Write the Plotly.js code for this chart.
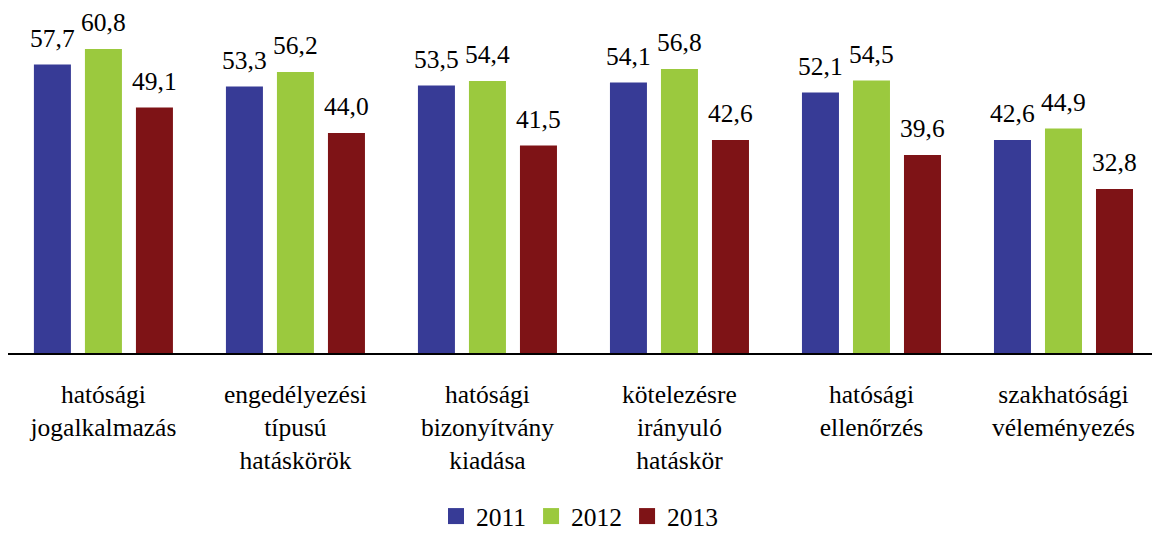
<!DOCTYPE html>
<html>
<head>
<meta charset="utf-8">
<script src="https://cdn.plot.ly/plotly-3.0.1.min.js"></script>
<style>html,body{margin:0;padding:0;background:#fff;}#chart{width:1152px;height:540px;}</style>
</head>
<body>
<div id="chart"></div>
<script>
const categories = [
  "hatósági<br>jogalkalmazás",
  "engedélyezési<br>típusú<br>hatáskörök",
  "hatósági<br>bizonyítvány<br>kiadása",
  "kötelezésre<br>irányuló<br>hatáskör",
  "hatósági<br>ellenőrzés",
  "szakhatósági<br>véleményezés"
];
const seriesNames = ["2011", "2012", "2013"];
const values2011 = [57.7, 53.3, 53.5, 54.1, 52.1, 42.6];
const values2012 = [60.8, 56.2, 54.4, 56.8, 54.5, 44.9];
const values2013 = [49.1, 44.0, 41.5, 42.6, 39.6, 32.8];
const colors = ["#373B96", "#9BC93E", "#7E1316"];

const FONT = "Times New Roman";
const FS = 25.5;
const allValues = [values2011, values2012, values2013];
const idx = categories.map((c, i) => i);
const bargap = 0.203, bargroupgap = 0.2745;
const slot = (1 - bargap) / 3;
const fmt = v => v.toFixed(1).replace(".", ",");

const traces = [];
allValues.forEach((vals, k) => {
  traces.push({
    type: "bar", x: idx, y: vals, name: seriesNames[k],
    marker: {color: colors[k]}, showlegend: false, hoverinfo: "skip"
  });
});
allValues.forEach((vals, k) => {
  traces.push({
    type: "scatter", mode: "markers", x: [null], y: [null], name: seriesNames[k],
    marker: {symbol: "square", size: 17, color: colors[k]}, showlegend: true
  });
});

const annotations = [];
allValues.forEach((vals, k) => {
  vals.forEach((v, i) => {
    annotations.push({
      x: i + (k - 1) * slot, y: v, xref: "x", yref: "y",
      text: fmt(v), showarrow: false, yanchor: "bottom", yshift: 10,
      font: {family: FONT, size: FS, color: "#000"}
    });
  });
});

const layout = {
  width: 1152, height: 540,
  margin: {l: 8, r: 0, t: 3, b: 187},
  paper_bgcolor: "#fff", plot_bgcolor: "#fff",
  barmode: "group", bargap: bargap, bargroupgap: bargroupgap,
  font: {family: FONT, size: FS, color: "#000"},
  xaxis: {
    range: [-0.497, 5.461], tickvals: idx, ticktext: categories,
    showgrid: false, zeroline: false, showline: true, linecolor: "#000", linewidth: 1.5,
    ticks: "", ticklabelstandoff: 18, tickfont: {family: FONT, size: FS, color: "#000"}
  },
  yaxis: {range: [0, 70], visible: false, showgrid: false, zeroline: false},
  legend: {
    orientation: "h", x: 0.5, xanchor: "center", y: 0, yref: "container", yanchor: "bottom",
    font: {family: FONT, size: FS, color: "#000"}, itemclick: false
  },
  annotations: annotations
};
Plotly.newPlot("chart", traces, layout, {staticPlot: true});
</script>
</body>
</html>
